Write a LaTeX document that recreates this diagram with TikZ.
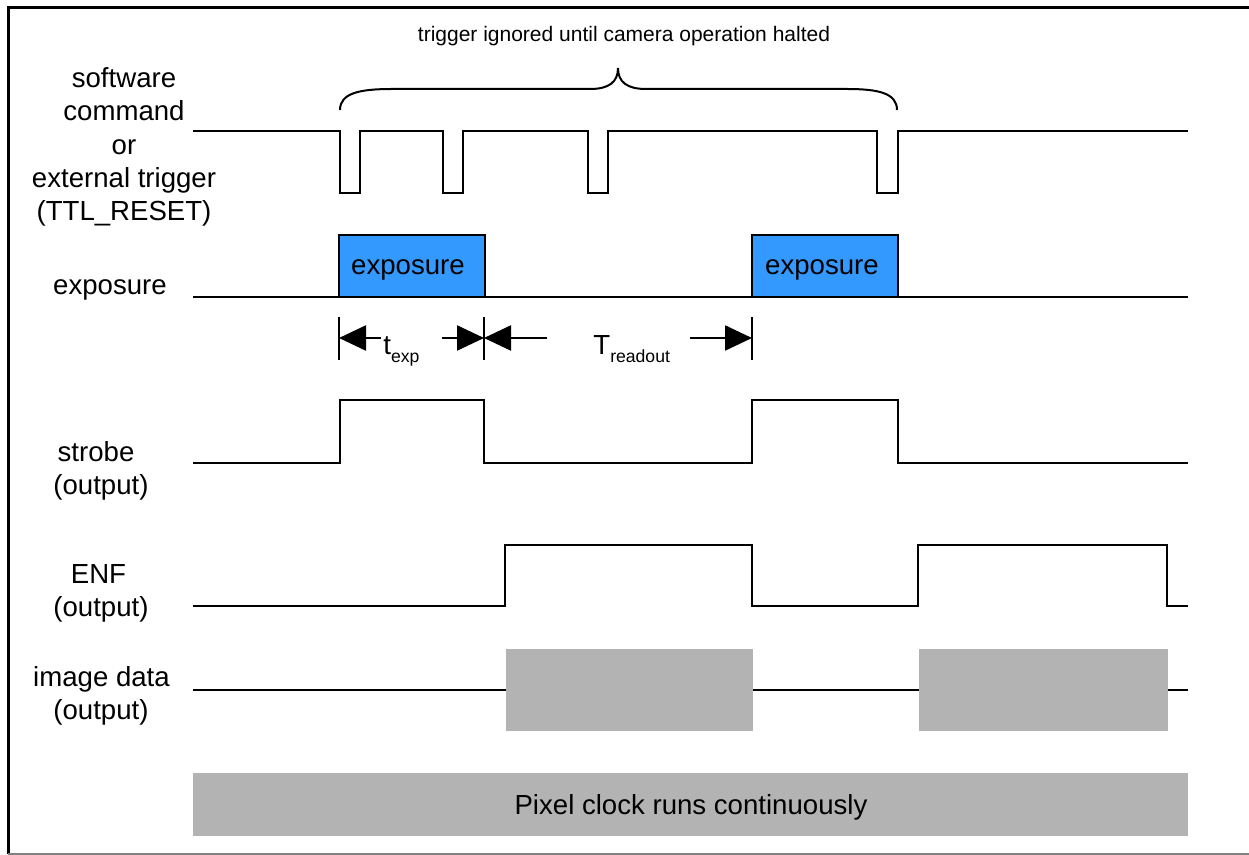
\documentclass[tikz,border=0pt]{standalone}
\usepackage{fontspec}
\setmainfont{Liberation Sans}
\usetikzlibrary{arrows.meta}
\definecolor{expblue}{RGB}{51,153,255}
\definecolor{datagray}{RGB}{179,179,179}
\newcommand{\subtxt}[1]{\raisebox{-4pt}{\fontsize{8.8}{10}\selectfont #1}}
\begin{document}
\begin{tikzpicture}[x=0.5pt,y=-0.5pt,
  sig/.style={line width=1.2pt, line join=miter},
  lbl/.style={anchor=base, inner sep=0pt, font=\fontsize{13.8}{16.65}\selectfont},
  smalllbl/.style={anchor=base, inner sep=0pt, font=\fontsize{10.5}{12}\selectfont},
  expbox/.style={draw=black, line width=1pt, fill=expblue},
  graybox/.style={fill=datagray, draw=none},
  tick/.style={line width=1pt},
  dimarrow/.style={line width=1.2pt, -{Triangle[length=13.5pt,width=12.5pt]}}]
\useasboundingbox (0,0) rectangle (1249,855);
% frame
\draw[line width=1.5pt] (8,854) -- (8,7.5) -- (1249,7.5);
\draw[line width=0.8pt, gray] (8,854) -- (1249,854);

% labels
\node[lbl] (l1) at (124,88) {software};
\node[lbl] (l2) at (124,121) {command};
\node[lbl] (l3) at (124,155) {or};
\node[lbl] (l4) at (124,188) {external trigger};
\node[lbl] (l5) at (124,221) {(TTL\_RESET)};
\node[lbl] (lexp) at (110,295) {exposure};
\node[lbl] (ls1) at (96,462) {strobe};
\node[lbl] (ls2) at (101,495) {(output)};
\node[lbl] (le1) at (98.5,584) {ENF};
\node[lbl] (le2) at (101,617) {(output)};
\node[lbl] (li1) at (101.5,687) {image data};
\node[lbl] (li2) at (101,719) {(output)};

% brace
\node[smalllbl] (bt) at (624,41.7) {trigger ignored until camera operation halted};
\draw[line width=1pt] (340,110) .. controls (340,93) and (360,89) .. (392,89)
  -- (590,89) .. controls (609,89) and (618,82) .. (618,68)
  .. controls (618,82) and (627,89) .. (646,89)
  -- (847,89) .. controls (878,89) and (897,93) .. (897,110);

% trigger signal
\draw[sig] (193,131) -- (340,131) -- (340,193) -- (360,193) -- (360,131)
  -- (443,131) -- (443,193) -- (463,193) -- (463,131)
  -- (588,131) -- (588,193) -- (608,193) -- (608,131)
  -- (877,131) -- (877,193) -- (898,193) -- (898,131) -- (1188,131);

% exposure
\draw[sig] (193,297) -- (1188,297);
\draw[expbox] (339,235) rectangle (484.5,297);
\draw[expbox] (752,235) rectangle (898,297);
\node[lbl] (eb1) at (408,275) {exposure};
\node[lbl] (eb2) at (822,275) {exposure};

% dimension ticks and arrows
\coordinate (ta) at (339,338);
\coordinate (tb) at (484,338);
\coordinate (tc) at (752,338);
\coordinate (a1) at (381,338);
\coordinate (a2) at (442,338);
\coordinate (a3) at (547,338);
\coordinate (a4) at (690,338);
\draw[tick] (339,317) -- (339,360);
\draw[tick] (484,317) -- (484,360);
\draw[tick] (752,317) -- (752,360);
\draw[dimarrow] (a1) -- (ta);
\draw[dimarrow] (a2) -- (tb);
\draw[dimarrow] (a3) -- (tb);
\draw[dimarrow] (a4) -- (tc);
\node[lbl, anchor=base west] (texp) at (383,355) {t\subtxt{exp}};
\node[lbl, anchor=base west] (trd) at (593,355) {T\subtxt{readout}};

% strobe
\draw[sig] (193,463) -- (340,463) -- (340,400) -- (484,400) -- (484,463)
  -- (752,463) -- (752,400) -- (898,400) -- (898,463) -- (1188,463);

% ENF
\draw[sig] (193,606) -- (505,606) -- (505,545) -- (752,545) -- (752,606)
  -- (918,606) -- (918,545) -- (1167,545) -- (1167,606) -- (1188,606);

% image data
\draw[sig] (193,690) -- (1188,690);
\fill[graybox] (506,649) rectangle (753,731);
\fill[graybox] (919,649) rectangle (1168,731);

% pixel clock
\fill[graybox] (193,773) rectangle (1188,836);
\node[lbl] (pc) at (691,814) {Pixel clock runs continuously};
\end{tikzpicture}
\end{document}
